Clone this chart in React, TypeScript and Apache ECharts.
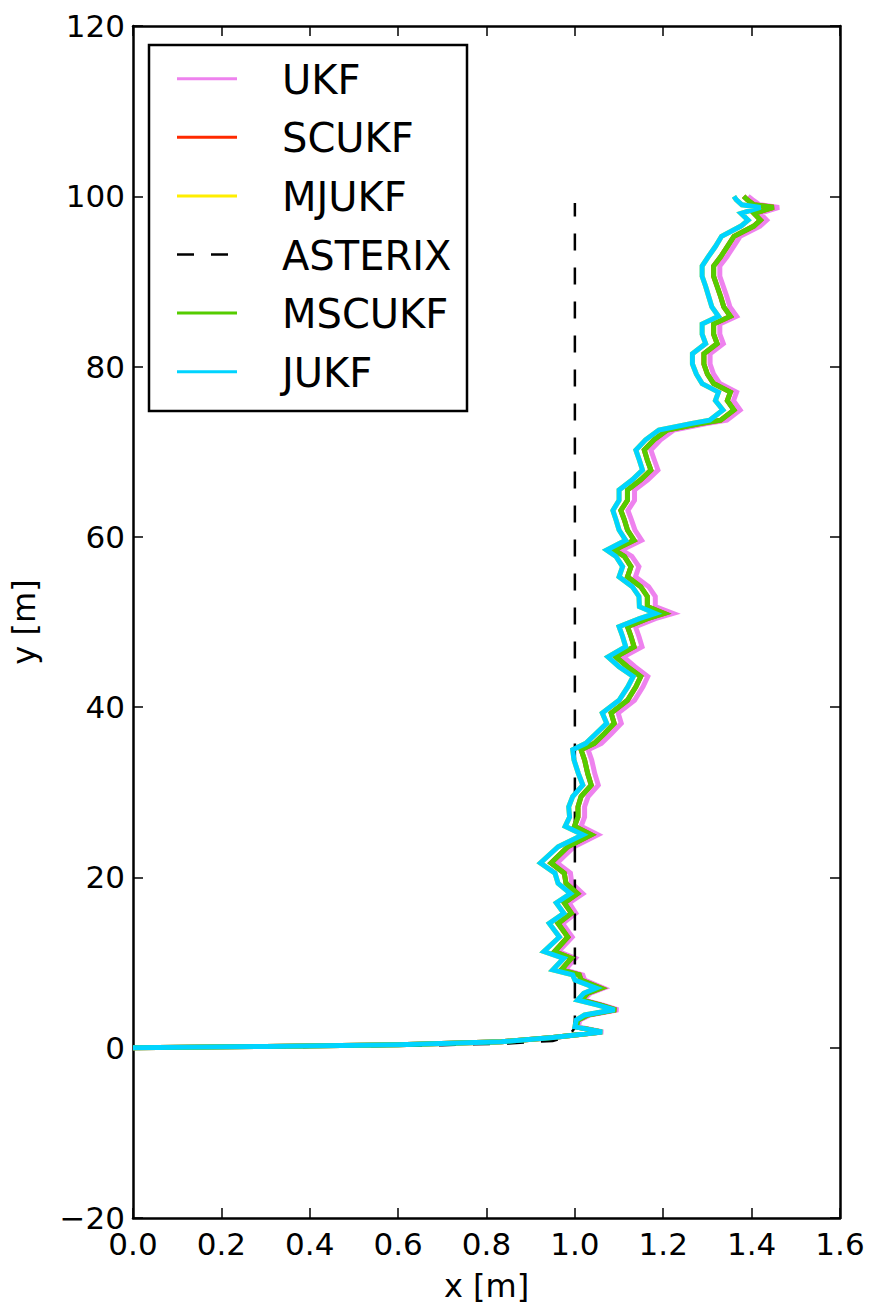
import React, { useEffect, useRef } from "react";
import * as echarts from "echarts";

const WIDTH = 875;
const HEIGHT = 1312;
const FONT = "DejaVu Sans";

// Shared along-track y samples [m]
const yPath = [
  0.0, 0.15, 0.35, 0.7, 1.2, 1.85, 2.45, 3.25, 3.85, 4.45,
  5.0, 5.6, 6.4, 7.0, 7.95, 8.55, 9.15, 10.5, 11.3, 13.0,
  14.6, 15.8, 17.0, 18.1, 19.3, 20.5, 21.7, 23.6, 25.0, 26.0,
  27.1, 28.3, 29.5, 30.85, 32.2, 33.8, 35.0, 35.75, 36.9, 38.1,
  39.3, 40.8, 42.4, 43.6, 44.75, 45.9, 47.1, 48.3, 49.45, 50.4,
  51.0, 51.8, 53.0, 54.15, 55.3, 56.5, 57.7, 58.45, 59.6, 60.8,
  62.0, 63.1, 64.3, 65.5, 66.7, 67.85, 69.0, 70.2, 71.4, 72.55,
  73.3, 73.7, 74.9, 76.0, 77.0, 78.0, 79.1, 80.3, 81.5, 82.7,
  83.8, 85.0, 85.9, 87.0, 88.2, 89.4, 90.6, 91.8, 92.9, 94.1,
  95.3, 96.5, 97.2, 98.0, 98.7, 99.0, 99.6, 100.0,
];

// x estimates [m] for each filter
const xUKF = [
  0.0, 0.3, 0.6, 0.834, 0.952, 1.064, 1.008, 1.011, 1.034, 1.098,
  1.064, 1.019, 1.035, 1.065, 1.022, 1.018, 0.978, 1.001, 0.963, 0.994,
  0.972, 1.002, 0.987, 1.018, 0.993, 0.99, 0.96, 0.998, 1.052, 1.014,
  1.022, 1.022, 1.03, 1.053, 1.045, 1.038, 1.03, 1.06, 1.083, 1.105,
  1.098, 1.135, 1.154, 1.165, 1.136, 1.11, 1.152, 1.145, 1.137, 1.182,
  1.222, 1.182, 1.182, 1.167, 1.137, 1.145, 1.129, 1.106, 1.151, 1.136,
  1.128, 1.12, 1.135, 1.135, 1.165, 1.188, 1.18, 1.172, 1.194, 1.224,
  1.298, 1.344, 1.374, 1.359, 1.366, 1.328, 1.314, 1.306, 1.306, 1.336,
  1.328, 1.328, 1.366, 1.351, 1.344, 1.336, 1.328, 1.328, 1.344, 1.359,
  1.374, 1.419, 1.434, 1.419, 1.462, 1.418, 1.402, 1.392,
];

const xMSCUKF = [
  0.0, 0.3, 0.6, 0.834, 0.95, 1.06, 1.003, 1.007, 1.029, 1.093,
  1.059, 1.014, 1.029, 1.059, 1.014, 1.01, 0.969, 0.992, 0.954, 0.984,
  0.962, 0.992, 0.976, 1.006, 0.98, 0.976, 0.946, 0.984, 1.037, 0.999,
  1.007, 1.007, 1.014, 1.037, 1.029, 1.022, 1.014, 1.044, 1.067, 1.089,
  1.082, 1.119, 1.138, 1.149, 1.119, 1.093, 1.134, 1.127, 1.119, 1.164,
  1.202, 1.164, 1.164, 1.149, 1.119, 1.127, 1.112, 1.089, 1.134, 1.119,
  1.112, 1.104, 1.119, 1.119, 1.149, 1.172, 1.164, 1.157, 1.179, 1.209,
  1.284, 1.33, 1.36, 1.345, 1.352, 1.314, 1.3, 1.292, 1.292, 1.322,
  1.314, 1.314, 1.352, 1.337, 1.33, 1.322, 1.314, 1.314, 1.33, 1.345,
  1.36, 1.405, 1.42, 1.405, 1.45, 1.405, 1.39, 1.382,
];

const xJUKF = [
  0.0, 0.3, 0.6, 0.834, 0.95, 1.062, 1.0, 1.003, 1.022, 1.09,
  1.052, 1.006, 1.02, 1.048, 1.0, 0.995, 0.95, 0.975, 0.93, 0.965,
  0.942, 0.975, 0.958, 0.99, 0.962, 0.955, 0.922, 0.962, 1.018, 0.978,
  0.988, 0.986, 0.995, 1.018, 1.008, 0.998, 0.995, 1.025, 1.048, 1.072,
  1.062, 1.1, 1.12, 1.132, 1.1, 1.075, 1.115, 1.108, 1.1, 1.146,
  1.182, 1.146, 1.145, 1.13, 1.1, 1.108, 1.093, 1.072, 1.115, 1.1,
  1.093, 1.086, 1.1, 1.1, 1.13, 1.153, 1.146, 1.138, 1.16, 1.19,
  1.262, 1.305, 1.335, 1.318, 1.325, 1.288, 1.275, 1.266, 1.266, 1.296,
  1.288, 1.288, 1.325, 1.31, 1.303, 1.296, 1.288, 1.288, 1.302, 1.318,
  1.332, 1.376, 1.392, 1.376, 1.42, 1.378, 1.365, 1.36,
];

// SCUKF and MJUKF coincide with MSCUKF and JUKF and sit underneath them
const xSCUKF = [...xMSCUKF];
const xMJUKF = [...xJUKF];

// ASTERIX reference track
const xASTERIX = [0.0, 0.4, 0.7, 0.85, 0.95, 0.985, 0.998, 1.0, 1.0];
const yASTERIX = [0.0, 0.1, 0.3, 0.5, 0.8, 1.3, 2.2, 3.2, 99.2];

const seriesNames = ["UKF", "SCUKF", "MJUKF", "ASTERIX", "MSCUKF", "JUKF"];
const seriesColors = ["#ee82ee", "#ff2a00", "#ffee00", "#000000", "#55cc00", "#00d4ff"];

const xTicks = [0, 1.6, 0.2];
const yTicks = [-20, 120, 20];

const pairs = (xs: number[], ys: number[]) => xs.map((x, i) => [x, ys[i]]);

export default function App() {
  const ref = useRef<HTMLDivElement>(null);

  useEffect(() => {
    if (!ref.current) return;
    const chart = echarts.init(ref.current, null, { renderer: "svg" });

    const tracks: Record<string, number[][]> = {
      UKF: pairs(xUKF, yPath),
      SCUKF: pairs(xSCUKF, yPath),
      MJUKF: pairs(xMJUKF, yPath),
      ASTERIX: pairs(xASTERIX, yASTERIX),
      MSCUKF: pairs(xMSCUKF, yPath),
      JUKF: pairs(xJUKF, yPath),
    };

    const axisLine = { show: true, onZero: false, lineStyle: { color: "#000", width: 2.5 } };
    const axisTick = { show: true, inside: true, length: 10, lineStyle: { color: "#000", width: 1.5 } };
    const labelStyle = { color: "#000", fontSize: 31, fontFamily: FONT };
    const nameStyle = { color: "#000", fontSize: 32, fontFamily: FONT };

    const fmtY = (v: number) => (v < 0 ? "\u2212" + Math.abs(v) : String(v));

    // Legend box drawn as graphic elements
    const legendLeft = 149;
    const legendTop = 45;
    const legendW = 318;
    const legendH = 366;
    const rowStart = 78.7;
    const rowStep = 58.6;
    const legendChildren: any[] = [
      {
        type: "rect",
        shape: { x: legendLeft, y: legendTop, width: legendW, height: legendH },
        style: { fill: "#fff", stroke: "#000", lineWidth: 2.5 },
      },
    ];
    seriesNames.forEach((name, i) => {
      const cy = rowStart + i * rowStep;
      legendChildren.push({
        type: "line",
        shape: { x1: 177, y1: cy, x2: 237, y2: cy },
        style: {
          stroke: seriesColors[i],
          lineWidth: name === "ASTERIX" ? 2.5 : 3,
          lineDash: name === "ASTERIX" ? [17, 17] : null,
        },
      });
      legendChildren.push({
        type: "text",
        x: 282,
        y: cy + 1,
        style: {
          text: name,
          fontSize: 40,
          fontFamily: FONT,
          fill: "#000",
          verticalAlign: "middle",
          align: "left",
        },
      });
    });

    chart.setOption({
      animation: false,
      backgroundColor: "#fff",
      grid: { left: 130, right: 35, top: 26, bottom: 94, containLabel: false },
      xAxis: [
        {
          type: "value",
          position: "bottom",
          min: xTicks[0],
          max: xTicks[1],
          interval: xTicks[2],
          axisLine,
          axisTick,
          splitLine: { show: false },
          axisLabel: { ...labelStyle, margin: 10, formatter: (v: number) => v.toFixed(1) },
          name: "x [m]",
          nameLocation: "middle",
          nameGap: 52,
          nameTextStyle: nameStyle,
        },
        {
          type: "value",
          position: "top",
          min: xTicks[0],
          max: xTicks[1],
          interval: xTicks[2],
          axisLine,
          axisTick,
          splitLine: { show: false },
          axisLabel: { show: false },
        },
      ],
      yAxis: [
        {
          type: "value",
          position: "left",
          min: yTicks[0],
          max: yTicks[1],
          interval: yTicks[2],
          axisLine,
          axisTick,
          splitLine: { show: false },
          axisLabel: { ...labelStyle, margin: 8, formatter: fmtY },
          name: "y [m]",
          nameLocation: "middle",
          nameGap: 93,
          nameTextStyle: nameStyle,
        },
        {
          type: "value",
          position: "right",
          min: yTicks[0],
          max: yTicks[1],
          interval: yTicks[2],
          axisLine,
          axisTick,
          splitLine: { show: false },
          axisLabel: { show: false },
        },
      ],
      series: seriesNames.map((name, i) => ({
        name,
        type: "line",
        xAxisIndex: 0,
        yAxisIndex: 0,
        data: tracks[name],
        symbol: "none",
        showSymbol: false,
        lineStyle: {
          color: seriesColors[i],
          width: name === "ASTERIX" ? 2.5 : 5,
          type: name === "ASTERIX" ? [17, 17] : "solid",
          join: "miter",
        },
        z: 2 + i * 0.01,
      })),
      graphic: [{ type: "group", z: 100, children: legendChildren }],
    });

    return () => chart.dispose();
  }, []);

  return (
    <div
      ref={ref}
      style={{ position: "absolute", left: 0, top: 0, width: WIDTH, height: HEIGHT }}
    />
  );
}
